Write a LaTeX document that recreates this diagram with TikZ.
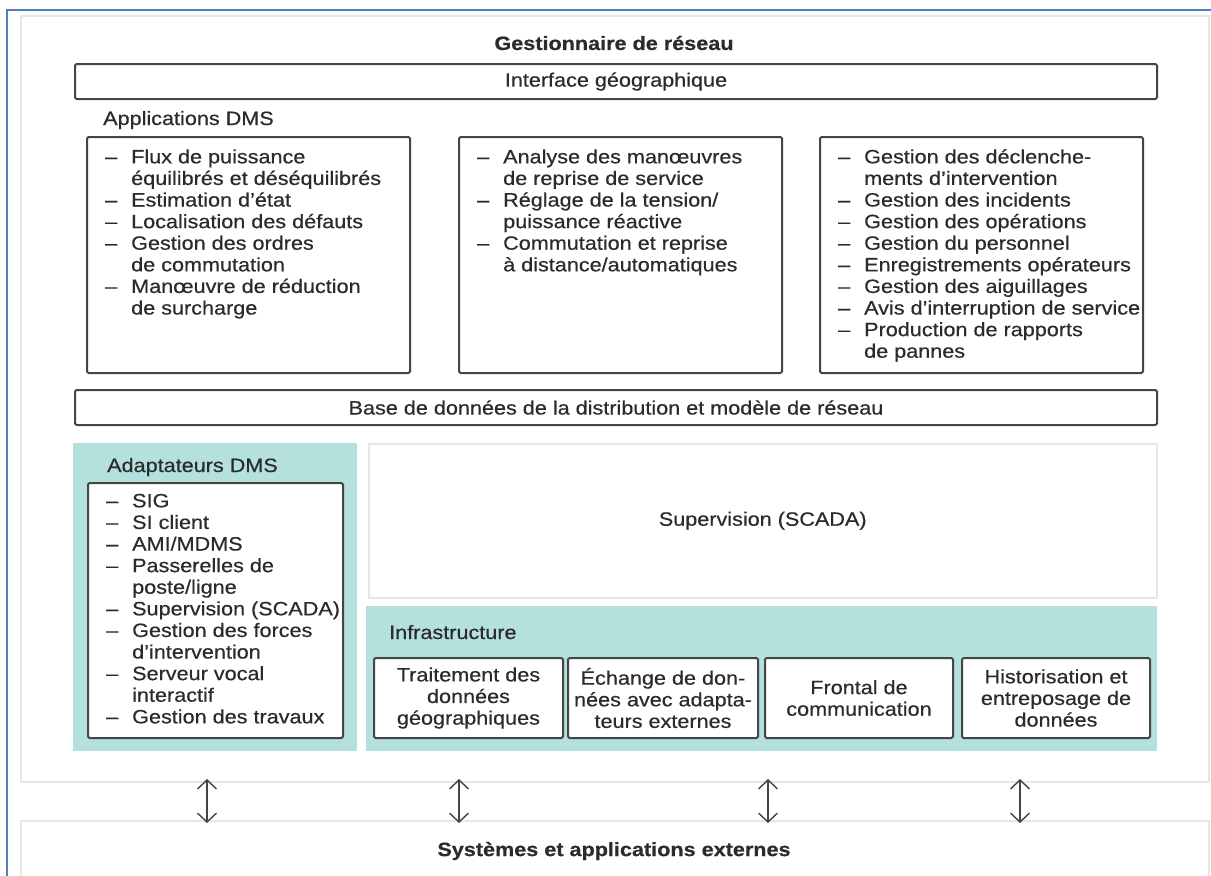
\documentclass[tikz,border=0pt]{standalone}
\usepackage{fontspec}
\setmainfont{Liberation Sans}[FakeStretch=1.12, FakeBold=0.45]
\usetikzlibrary{arrows.meta,calc}

\definecolor{frameblue}{HTML}{4F81BD}
\definecolor{panelline}{HTML}{E6E6E6}
\definecolor{boxline}{HTML}{454545}
\definecolor{adaptfill}{HTML}{B4E1DE}
\definecolor{ink}{HTML}{2B2B2B}
\definecolor{arrowink}{HTML}{444444}

% dash-led item lists with hanging continuation lines
\newcommand\itemlist[1]{\begin{tabular}{@{}p{26pt}@{}l@{}}#1\end{tabular}}

\begin{document}
\begin{tikzpicture}[x=1pt, y=-1pt,
  every node/.style={font=\fontsize{19.3}{21.6}\selectfont, text=ink},
  panel/.style={draw=panelline, line width=1.5pt, fill=white, anchor=north west, inner sep=0pt},
  tealpanel/.style={fill=adaptfill, anchor=north west, inner sep=0pt},
  framebox/.style={draw=boxline, line width=2pt, rounded corners=1.5pt, fill=white,
                   anchor=north west, inner sep=0pt, align=center},
  listtext/.style={anchor=north west, inner sep=0pt},
  caption/.style={anchor=base west, inner sep=0pt},
  biarrow/.style={draw=arrowink, line width=1.4pt,
                  {Straight Barb[length=9pt,width=19pt]}-{Straight Barb[length=9pt,width=19pt]}}
]
\useasboundingbox (0,0) rectangle (1211,876);
\clip (0,0) rectangle (1211,876);
\fill[white] (0,0) rectangle (1211,876);

% window frame
\draw[frameblue, line width=2.8pt] (7,900) -- (7,10) -- (1240,10);

% main network-manager panel and external systems strip
\node[panel, minimum width=1188pt, minimum height=766pt] (outer) at (20,15) {};
\node[panel, minimum width=1188pt, minimum height=56pt] (external) at (20,820) {};
\node[anchor=center, inner sep=0pt] (extlabel) at (614,851) {\textbf{Systèmes et applications externes}};

\node[anchor=center, inner sep=0pt] (title) at (614,43) {\textbf{Gestionnaire de réseau}};
\node[framebox, minimum width=1082pt, minimum height=35pt] (iface) at (74,63) {Interface géographique};

% DMS applications
\node[caption] (appslabel) at (103,125) {Applications DMS};
\node[framebox, minimum width=323pt, minimum height=236pt] (app1) at (86,136) {};
\node[framebox, minimum width=323pt, minimum height=236pt] (app2) at (458,136) {};
\node[framebox, minimum width=323pt, minimum height=236pt] (app3) at (819,136) {};

\node[listtext] (app1list) at ($(app1.north west)+(19,12)$) {\itemlist{%
–&Flux de puissance\\
 &équilibrés et déséquilibrés\\
–&Estimation d’état\\
–&Localisation des défauts\\
–&Gestion des ordres\\
 &de commutation\\
–&Manœuvre de réduction\\
 &de surcharge}};

\node[listtext] (app2list) at ($(app2.north west)+(19,12)$) {\itemlist{%
–&Analyse des manœuvres\\
 &de reprise de service\\
–&Réglage de la tension/\\
 &puissance réactive\\
–&Commutation et reprise\\
 &à distance/automatiques}};

\node[listtext] (app3list) at ($(app3.north west)+(19,12)$) {\itemlist{%
–&Gestion des déclenche-\\
 &ments d’intervention\\
–&Gestion des incidents\\
–&Gestion des opérations\\
–&Gestion du personnel\\
–&Enregistrements opérateurs\\
–&Gestion des aiguillages\\
–&Avis d’interruption de service\\
–&Production de rapports\\
 &de pannes}};

\node[framebox, minimum width=1082pt, minimum height=35pt] (database) at (74,389)
  {Base de données de la distribution et modèle de réseau};

% DMS adapters
\node[tealpanel, minimum width=284pt, minimum height=308pt] (adapt) at (73,443) {};
\node[caption] (adaptlabel) at (107,472) {Adaptateurs DMS};
\node[framebox, minimum width=255pt, minimum height=255pt] (adaptbox) at (87,482) {};
\node[listtext] (adaptlist) at ($(adaptbox.north west)+(19,10)$) {\itemlist{%
–&SIG\\
–&SI client\\
–&AMI/MDMS\\
–&Passerelles de\\
 &poste/ligne\\
–&Supervision (SCADA)\\
–&Gestion des forces\\
 &d’intervention\\
–&Serveur vocal\\
 &interactif\\
–&Gestion des travaux}};

% SCADA
\node[panel, minimum width=788pt, minimum height=154pt] (scada) at (368,443) {};
\node[anchor=center, inner sep=0pt] (scadalabel) at (scada.center) {Supervision (SCADA)};

% infrastructure
\node[tealpanel, minimum width=791pt, minimum height=145pt] (infra) at (366,606) {};
\node[caption] (infralabel) at (389,639) {Infrastructure};
\node[framebox, minimum width=189pt, minimum height=80pt] (geo) at (373,657)
  {Traitement des\\données\\géographiques};
\node[framebox, minimum width=190pt, minimum height=80pt] (exchange) at (567,657)
  {Échange de don-\\nées avec adapta-\\teurs externes};
\node[framebox, minimum width=188pt, minimum height=80pt] (frontend) at (764,657)
  {Frontal de\\communication};
\node[framebox, minimum width=188pt, minimum height=80pt] (historian) at (961,657)
  {Historisation et\\entreposage de\\données};

% links to external systems
\foreach \n/\x in {1/207, 2/459, 3/768, 4/1020} {
  \coordinate (up\n) at (\x,779);
  \coordinate (down\n) at (\x,823);
  \draw[biarrow] (up\n) -- (down\n);
}
\end{tikzpicture}
\end{document}
